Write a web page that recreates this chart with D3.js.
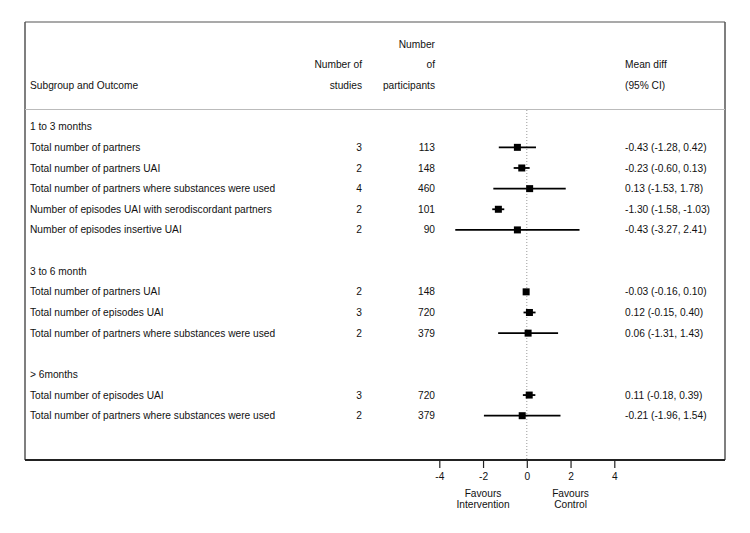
<!DOCTYPE html>
<html>
<head>
<meta charset="utf-8">
<script src="https://cdn.jsdelivr.net/npm/d3@7"></script>
<style>
  body { margin: 0; background: #fff; }
  text { font-family: "Liberation Sans", Arial, sans-serif; font-size: 10.2px; fill: #111; }
</style>
</head>
<body>
<div id="chart"></div>
<script>
// subgroups and outcome rows
const groups = ["1 to 3 months", "3 to 6 month", "> 6months"];
const outcomeGroup = [0, 0, 0, 0, 0, 1, 1, 1, 2, 2];
const outcomes = [
  "Total number of partners",
  "Total number of partners UAI",
  "Total number of partners where substances were used",
  "Number of episodes UAI with serodiscordant partners",
  "Number of episodes insertive UAI",
  "Total number of partners UAI",
  "Total number of episodes UAI",
  "Total number of partners where substances were used",
  "Total number of episodes UAI",
  "Total number of partners where substances were used"
];
const studies = [3, 2, 4, 2, 2, 2, 3, 2, 3, 2];
const participants = [113, 148, 460, 101, 90, 148, 720, 379, 720, 379];
const meanDiff = [-0.43, -0.23, 0.13, -1.30, -0.43, -0.03, 0.12, 0.06, 0.11, -0.21];
const ciLow = [-1.28, -0.60, -1.53, -1.58, -3.27, -0.16, -0.15, -1.31, -0.18, -1.96];
const ciHigh = [0.42, 0.13, 1.78, -1.03, 2.41, 0.10, 0.40, 1.43, 0.39, 1.54];
const xTicks = [-4, -2, 0, 2, 4];

const width = 750, height = 533;
const box = { left: 25, right: 725, top: 22, bottom: 460 };

const svg = d3.select("#chart").append("svg")
  .attr("width", width)
  .attr("height", height);

// build the row layout: group header, its outcomes, then a blank line
const rows = [];
groups.forEach((g, gi) => {
  rows.push({ type: "group", label: g });
  outcomeGroup.forEach((og, i) => {
    if (og === gi) rows.push({ type: "outcome", i: i });
  });
  rows.push({ type: "blank" });
});

const y = d3.scaleLinear().domain([0, 14]).range([126.7, 415.7]);
const x = d3.scaleLinear().domain([-4, 4]).range([439.3, 614.3]);
const fmt = v => d3.format(".2f")(v).replace("\u2212", "-");

const col = { label: 30, studies: 362, parts: 435, est: 625 };

// frame
svg.append("line")
  .attr("x1", box.left).attr("x2", box.right)
  .attr("y1", box.top).attr("y2", box.top)
  .attr("stroke", "#555").attr("stroke-width", 1.2);
svg.append("line")
  .attr("x1", box.left).attr("x2", box.left)
  .attr("y1", box.top).attr("y2", box.bottom)
  .attr("stroke", "#555").attr("stroke-width", 1.5);
svg.append("line")
  .attr("x1", box.right).attr("x2", box.right)
  .attr("y1", box.top).attr("y2", box.bottom)
  .attr("stroke", "#555").attr("stroke-width", 1.5);
svg.append("line")
  .attr("x1", box.left).attr("x2", box.right)
  .attr("y1", box.bottom).attr("y2", box.bottom)
  .attr("stroke", "#222").attr("stroke-width", 2);
svg.append("line")
  .attr("x1", box.left).attr("x2", box.right)
  .attr("y1", 109.5).attr("y2", 109.5)
  .attr("stroke", "#bbb").attr("stroke-width", 1);

// headers
const header = [
  { t: "Number", x: col.parts, y: 44, a: "end" },
  { t: "Number of", x: col.studies, y: 64.5, a: "end" },
  { t: "of", x: col.parts, y: 64.5, a: "end" },
  { t: "Mean diff", x: col.est, y: 64.5, a: "start" },
  { t: "Subgroup and Outcome", x: col.label, y: 85, a: "start" },
  { t: "studies", x: col.studies, y: 85, a: "end" },
  { t: "participants", x: col.parts, y: 85, a: "end" },
  { t: "(95% CI)", x: col.est, y: 85, a: "start" }
];
svg.selectAll(".hdr").data(header).enter().append("text")
  .attr("class", "hdr")
  .attr("x", d => d.x).attr("y", d => d.y)
  .attr("dy", "0.35em")
  .attr("text-anchor", d => d.a)
  .text(d => d.t);

// null line
svg.append("line")
  .attr("x1", x(0)).attr("x2", x(0))
  .attr("y1", 110).attr("y2", box.bottom)
  .attr("stroke", "#999").attr("stroke-width", 1)
  .attr("stroke-dasharray", "1,2");

// row texts
const g = svg.append("g");
rows.forEach((r, k) => {
  const yy = y(k);
  if (r.type === "group") {
    g.append("text").attr("x", col.label).attr("y", yy).attr("dy", "0.35em").text(r.label);
  } else if (r.type === "outcome") {
    const i = r.i;
    g.append("text").attr("x", col.label).attr("y", yy).attr("dy", "0.35em").text(outcomes[i]);
    g.append("text").attr("x", col.studies).attr("y", yy).attr("dy", "0.35em")
      .attr("text-anchor", "end").text(studies[i]);
    g.append("text").attr("x", col.parts).attr("y", yy).attr("dy", "0.35em")
      .attr("text-anchor", "end").text(participants[i]);
    g.append("text").attr("x", col.est).attr("y", yy).attr("dy", "0.35em")
      .text(`${fmt(meanDiff[i])} (${fmt(ciLow[i])}, ${fmt(ciHigh[i])})`);
    g.append("line")
      .attr("x1", x(ciLow[i])).attr("x2", x(ciHigh[i]))
      .attr("y1", yy).attr("y2", yy)
      .attr("stroke", "#000").attr("stroke-width", 1.8);
    g.append("rect")
      .attr("x", x(meanDiff[i]) - 3.5).attr("y", yy - 3.5)
      .attr("width", 7).attr("height", 7)
      .attr("fill", "#000");
  }
});

// x axis (bottom border acts as axis line)
const axis = svg.append("g")
  .attr("transform", `translate(0,${box.bottom})`)
  .call(d3.axisBottom(x).tickValues(xTicks).tickSize(8).tickPadding(5)
    .tickFormat(d => String(d)));
axis.select(".domain").remove();
axis.selectAll(".tick line").attr("stroke", "#222").attr("stroke-width", 1.2);
axis.selectAll(".tick text").attr("fill", "#111")
  .style("font-family", "'Liberation Sans', Arial, sans-serif").style("font-size", "10.2px");

const favours = [
  { lines: ["Favours", "Intervention"], v: -2 },
  { lines: ["Favours", "Control"], v: 2 }
];
favours.forEach(f => {
  f.lines.forEach((t, j) => {
    svg.append("text")
      .attr("x", x(f.v)).attr("y", 493 + j * 11)
      .attr("dy", "0.35em")
      .attr("text-anchor", "middle")
      .text(t);
  });
});
</script>
</body>
</html>
